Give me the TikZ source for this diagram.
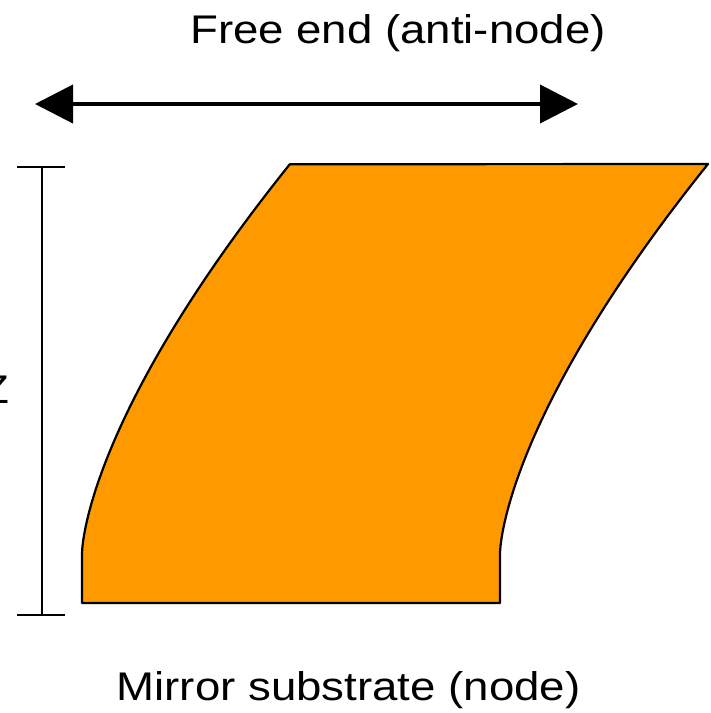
\documentclass[tikz,border=0pt]{standalone}
\usepackage{fontspec}
\setmainfont{Liberation Sans}
\newfontfamily\labelfont[FakeStretch=1.14]{Liberation Sans}
\usetikzlibrary{arrows.meta}
\definecolor{beamorange}{HTML}{FF9900}
\begin{document}
\begin{tikzpicture}[x=1pt,y=-1pt,>={Triangle[length=38pt,width=38pt]},line width=1.5pt,
 lbl/.style={inner sep=0pt,anchor=base,font=\labelfont\fontsize{40}{48}\selectfont}]
 \useasboundingbox (0,0) rectangle (711,713);
 \filldraw[fill=beamorange,draw=black,line width=2.2pt,line join=round]
  (82,603)--(82,553)
  --plot[domain=0:1,samples=60,variable=\t] ({82+208*\t*sqrt(\t)},{553-389*\t})
  --(708,164)
  --plot[domain=1:0,samples=60,variable=\t] ({500+208*\t*sqrt(\t)},{553-389*\t})
  --(500,603)--cycle;
 \coordinate (fl) at (35,104);
 \coordinate (fr) at (578,104);
 \draw[<->,line width=4pt] (fl)--(fr);
 \coordinate (dt) at (42,167);
 \coordinate (db) at (42,615);
 \draw (dt)--(db);
 \draw ([xshift=-25pt]dt)--([xshift=23pt]dt);
 \draw ([xshift=-25pt]db)--([xshift=23pt]db);
 \node[lbl] (freeend) at (398,43) {Free end (anti-node)};
 \node[lbl] (substrate) at (348.5,700) {Mirror substrate (node)};
 \node[lbl,anchor=base east] (len) at (10,403) {Z};
\end{tikzpicture}
\end{document}
